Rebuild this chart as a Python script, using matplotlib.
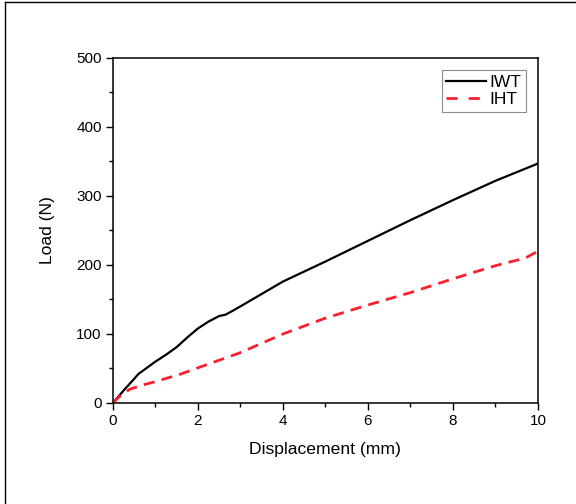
import matplotlib.pyplot as plt
from matplotlib.lines import Line2D
from matplotlib.ticker import MultipleLocator

plt.rcParams['font.family'] = ['Liberation Sans', 'DejaVu Sans']

# IWT curve
iwt_x = [0, 0.25, 0.5, 0.6, 0.8, 1.0, 1.25, 1.5, 1.75, 2.0, 2.25, 2.5, 2.65, 2.8, 3.0, 3.5, 4.0, 5.0, 6.0, 7.0, 8.0, 9.0, 10.0]
iwt_y = [0, 18, 35, 42, 51, 60, 70, 81, 95, 108, 118, 126, 128, 133, 140, 158, 176, 205, 235, 265, 294, 322, 347]

# IHT curve
iht_x = [0, 0.2, 0.4, 0.7, 1.0, 1.6, 2.0, 3.0, 4.0, 5.0, 6.0, 7.0, 8.0, 9.0, 9.7, 10.0]
iht_y = [0, 12, 20, 26, 31, 42, 51, 73, 100, 123, 142, 160, 180, 199, 210, 220]

fig = plt.figure(figsize=(5.76, 5.04), dpi=100)
ax = fig.add_axes([0.196, 0.2004, 0.738, 0.6846])

ax.plot(iwt_x, iwt_y, color='black', linewidth=1.6, label='IWT')
ax.plot(iht_x, iht_y, color='#fa2030', linewidth=2.0, linestyle=(0, (4, 2.6)), label='IHT')

ax.set_xlim(0, 10)
ax.set_ylim(0, 500)
ax.xaxis.set_major_locator(MultipleLocator(2))
ax.xaxis.set_minor_locator(MultipleLocator(1))
ax.yaxis.set_major_locator(MultipleLocator(100))
ax.yaxis.set_minor_locator(MultipleLocator(50))
ax.tick_params(which='major', direction='out', length=5, width=1, labelsize=11, pad=3)
ax.tick_params(which='minor', direction='out', length=3, width=1)
for s in ax.spines.values():
    s.set_linewidth(1.1)

ax.set_xlabel('Displacement (mm)', fontsize=12.6, labelpad=10)
ax.set_ylabel('Load (N)', fontsize=12.6, labelpad=15)

leg = ax.legend(loc='upper right', fontsize=12.5, frameon=True, fancybox=False,
                handlelength=2.3, handletextpad=0.2, borderpad=0.25,
                labelspacing=0.15, borderaxespad=0.7)
leg.get_frame().set_edgecolor('#707070')
leg.get_frame().set_linewidth(0.8)
leg.get_lines()[1].set_linestyle((0, (4, 4)))

# thin frame lines at top and left of the picture
fig.add_artist(Line2D([0.009, 0.009], [0, 0.996], transform=fig.transFigure, color='black', linewidth=1))
fig.add_artist(Line2D([0.009, 1], [0.996, 0.996], transform=fig.transFigure, color='black', linewidth=1))

fig.savefig('out.png', dpi=100)
